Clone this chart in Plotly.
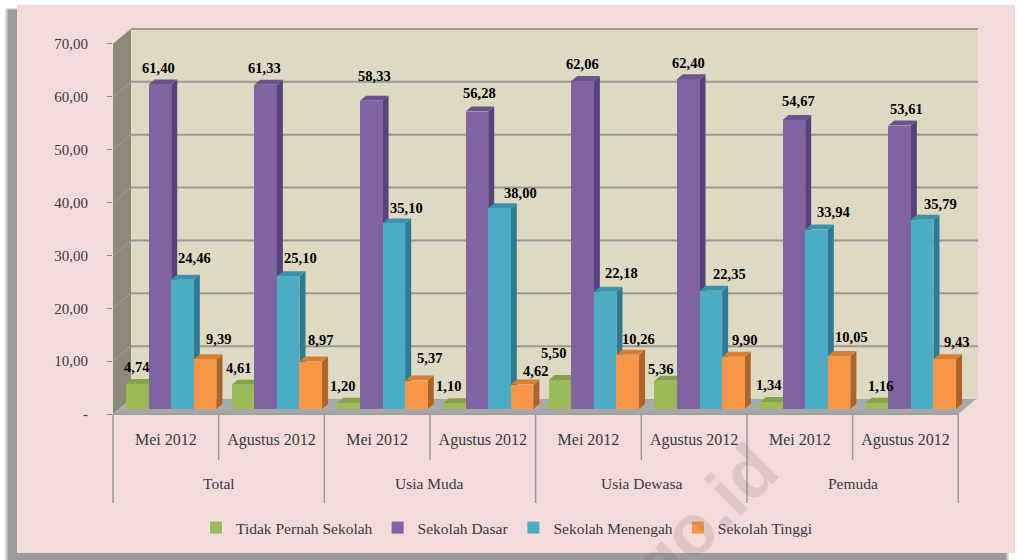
import plotly.graph_objects as go

# ---------- data ----------
periods = ["Mei 2012", "Agustus 2012"] * 4
groups = ["Total", "Usia Muda", "Usia Dewasa", "Pemuda"]
tidak_pernah = [4.74, 4.61, 1.20, 1.10, 5.50, 5.36, 1.34, 1.16]
sekolah_dasar = [61.40, 61.33, 58.33, 56.28, 62.06, 62.40, 54.67, 53.61]
sekolah_menengah = [24.46, 25.10, 35.10, 38.00, 22.18, 22.35, 33.94, 35.79]
sekolah_tinggi = [9.39, 8.97, 5.37, 4.62, 10.26, 9.90, 10.05, 9.43]
series_names = ["Tidak Pernah Sekolah", "Sekolah Dasar", "Sekolah Menengah", "Sekolah Tinggi"]
y_ticks = [0, 10, 20, 30, 40, 50, 60, 70]
y_tick_labels = ["-", "10,00", "20,00", "30,00", "40,00", "50,00", "60,00", "70,00"]

# ---------- label nudges, px from each bar's top centre (hand-placed in the source) ----------
nudge_x = [
    [-1, -4, -6, -6, -6, -5, -3, 4],
    [-1, -1, 3, 3, 0, 0, 5, 7],
    [12, 12, 13, 21, 16, 19, 17, 18],
    [13, 10, 13, 13, 11, 11, 12, 12],
]
nudge_y = [
    [17, 17, 17, 17, 27, 12, 17, 17],
    [16, 17, 25, 19, 17, 16, 19, 17],
    [22, 18, 15, 15, 19, 17, 18, 16],
    [20, 22, 23, 14, 16, 17, 19, 17],
]

# ---------- styles ----------
series = [tidak_pernah, sekolah_dasar, sekolah_menengah, sekolah_tinggi]
front = ["#9BBB59", "#8064A2", "#4BACC6", "#F79646"]
side = ["#6F8A3C", "#57437A", "#2F7A90", "#AE6428"]
top = ["#86A348", "#6B5290", "#3A93AB", "#D97F33"]
FONT = "Liberation Serif"
TXT = "#3a3a3a"

W, H = 1017, 560
L, R, T, B = 113, 39, 27, 146
PW, PH = W - L - R, H - T - B
PX_X = 105.66            # px per group
PX_Y = 5.286             # px per y-unit
XMAX = PW / PX_X
YMAX = PH / PX_Y
WALL_DX, WALL_DY = 18 / PX_X, 15 / PX_Y
BAR_DX, BAR_DY = 6 / PX_X, 5 / PX_Y
BAR_SHIFT = 5.4 / PX_X
BAR_W = 22.6 / PX_X
NG = len(periods)


def px(xp):
    return (xp - L) / PW


def py(yp):
    return (H - B - yp) / PH


def poly(pts):
    return "M" + " L".join(f"{a:.4f},{b:.4f}" for a, b in pts) + " Z"


shapes = []
# panel and soft shadow
SHADOW = "#9c9c9c"
for i, a in enumerate([0.3, 0.55, 1.0]):
    shapes.append(dict(type="rect", xref="paper", yref="paper", layer="below", line_width=0,
                       x0=px(5 + i * 1.5), x1=px(1009 - i * 1.5), y0=py(562), y1=py(8 + i),
                       fillcolor=SHADOW, opacity=a))
shapes.append(dict(type="rect", xref="paper", yref="paper", layer="below", line_width=0,
                   x0=px(17), x1=px(1015), y0=py(553), y1=py(5), fillcolor="#F2DCDB"))
# back wall, side wall, floor
ax = dict(xref="x", yref="y", layer="below")
shapes.append(dict(type="rect", x0=WALL_DX, x1=XMAX, y0=WALL_DY, y1=70 + WALL_DY,
                   fillcolor="#DDD9C3", line_width=0, **ax))
shapes.append(dict(type="path", path=poly([(0, 0), (WALL_DX, WALL_DY), (WALL_DX, 70 + WALL_DY), (0, 70)]),
                   fillcolor="#8B8977", line_width=0, **ax))
shapes.append(dict(type="path", path=poly([(0, 0), (NG, 0), (NG + WALL_DX, WALL_DY), (WALL_DX, WALL_DY)]),
                   fillcolor="#A9A9A9", line_width=0, **ax))
# gridlines running round the wall
for v in y_ticks[1:]:
    shapes.append(dict(type="line", x0=WALL_DX, x1=XMAX, y0=v + WALL_DY, y1=v + WALL_DY,
                       line=dict(color="#9A9A90", width=2), **ax))
    shapes.append(dict(type="line", x0=0, x1=WALL_DX, y0=v, y1=v + WALL_DY,
                       line=dict(color="#A2A092", width=1), **ax))
# front edge of floor and the category dividers
shapes.append(dict(type="line", xref="paper", yref="paper", layer="above",
                   x0=0, x1=NG * PX_X / PW, y0=0, y1=0, line=dict(color="#A0A0A0", width=2)))
for i in range(NG + 1):
    yb = 503 if i % 2 == 0 else 460
    shapes.append(dict(type="line", xref="paper", yref="paper", layer="above",
                       x0=i * PX_X / PW, x1=i * PX_X / PW, y0=0, y1=py(yb),
                       line=dict(color="#9a9a9a", width=1.5)))

fig = go.Figure()
annotations = []

# watermark
annotations.append(dict(text="<b>go.id</b>", xref="paper", yref="paper", x=px(704), y=py(517),
                        showarrow=False, textangle=-45, xanchor="center", yanchor="middle",
                        font=dict(family="Liberation Sans", size=72, color="rgba(120,95,95,0.17)")))

for s, (name, vals) in enumerate(zip(series_names, series)):
    xs = [g + 0.5 + BAR_SHIFT + (s - 1.5) * BAR_W for g in range(NG)]
    fig.add_trace(go.Bar(x=xs, y=vals, base=BAR_DY, width=BAR_W, name=name,
                         marker=dict(color=front[s], line_width=0)))
    for g, v in enumerate(vals):
        xl, xr = xs[g] - BAR_W / 2, xs[g] + BAR_W / 2
        yt = v + BAR_DY
        shapes.append(dict(type="path", xref="x", yref="y", layer="between", line_width=0, fillcolor=side[s],
                           path=poly([(xr, BAR_DY), (xr + BAR_DX, 2 * BAR_DY),
                                      (xr + BAR_DX, yt + BAR_DY), (xr, yt)])))
        shapes.append(dict(type="path", xref="x", yref="y", layer="between", line_width=0, fillcolor=top[s],
                           path=poly([(xl, yt), (xr, yt), (xr + BAR_DX, yt + BAR_DY), (xl + BAR_DX, yt + BAR_DY)])))
        annotations.append(dict(text=f"{v:.2f}".replace(".", ","), x=xs[g], y=yt, xref="x", yref="y",
                                xshift=nudge_x[s][g], yshift=nudge_y[s][g], showarrow=False,
                                xanchor="center", yanchor="middle",
                                font=dict(family=FONT, size=14.5, color="#000000", weight="bold")))

for i, g in enumerate(groups):
    annotations.append(dict(text=g, x=2 * i + 1, xref="x", y=py(483), yref="paper", showarrow=False,
                            xanchor="center", yanchor="middle", font=dict(family=FONT, size=15.5, color=TXT)))

fig.update_layout(
    width=W, height=H, autosize=False,
    margin=dict(l=L, r=R, t=T, b=B, pad=0),
    paper_bgcolor="#FFFFFF", plot_bgcolor="rgba(0,0,0,0)",
    barmode="overlay", bargap=0,
    font=dict(family=FONT, size=15, color=TXT),
    shapes=shapes, annotations=annotations,
    xaxis=dict(range=[0, XMAX], tickmode="array", tickvals=[g + 0.5 for g in range(NG)], ticktext=periods,
               showgrid=False, zeroline=False, showline=False, ticks="", ticklabelstandoff=14,
               tickfont=dict(family=FONT, size=16, color=TXT)),
    yaxis=dict(range=[0, YMAX], tickmode="array", tickvals=y_ticks, ticktext=y_tick_labels,
               showgrid=False, zeroline=False, showline=False, ticks="outside", ticklen=5, tickwidth=1,
               tickcolor="#8c8c8c", ticklabelstandoff=16,
               tickfont=dict(family=FONT, size=15, color=TXT)),
    legend=dict(orientation="h", x=px(196), y=py(528), xanchor="left", yanchor="middle",
                bgcolor="rgba(0,0,0,0)", font=dict(family=FONT, size=15.5, color=TXT), traceorder="normal"),
    hovermode=False,
)

fig.write_html("out.html", config=dict(displayModeBar=False),
               post_script="document.body.style.margin='0';document.body.style.overflow='hidden';")
